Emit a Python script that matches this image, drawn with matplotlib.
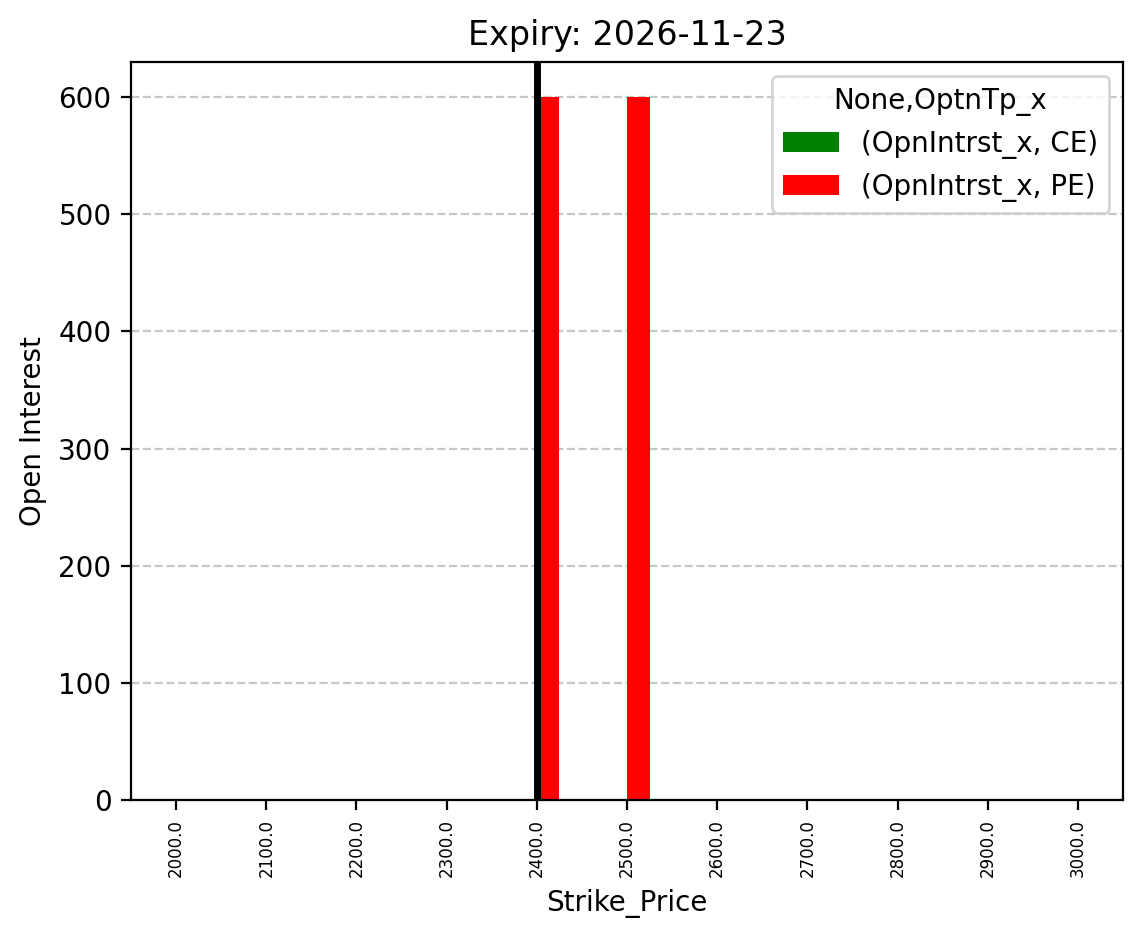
import numpy as np
import pandas as pd
import matplotlib
matplotlib.use("Agg")
import matplotlib.pyplot as plt

strikes = [2000.0, 2100.0, 2200.0, 2300.0, 2400.0, 2500.0, 2600.0, 2700.0, 2800.0, 2900.0, 3000.0]
ce_oi = [0, 0, 0, 0, 0, 0, 0, 0, 0, 0, 0]
pe_oi = [0, 0, 0, 0, 600, 600, 0, 0, 0, 0, 0]
spot_strike = 2400.0
expiry = "2026-11-23"

cols = pd.MultiIndex.from_tuples([("OpnIntrst_x", "CE"), ("OpnIntrst_x", "PE")],
                                 names=[None, "OptnTp_x"])
df = pd.DataFrame(np.column_stack([ce_oi, pe_oi]), index=pd.Index(strikes, name="Strike_Price"), columns=cols)

fig, ax = plt.subplots(figsize=(5.715, 4.695), dpi=200)
fig.subplots_adjust(left=0.1146, right=0.9825, top=0.934, bottom=0.148)

df.plot(kind="bar", ax=ax, color=["green", "red"])
ax.axvline(strikes.index(spot_strike), color="black", linewidth=2.5)
ax.grid(axis="y", linestyle="--", alpha=0.7)
ax.set_axisbelow(True)
ax.tick_params(axis="x", labelsize=6)
ax.set_ylabel("Open Interest")
ax.set_title("Expiry: " + expiry)

fig.savefig("out.png", dpi=200)
